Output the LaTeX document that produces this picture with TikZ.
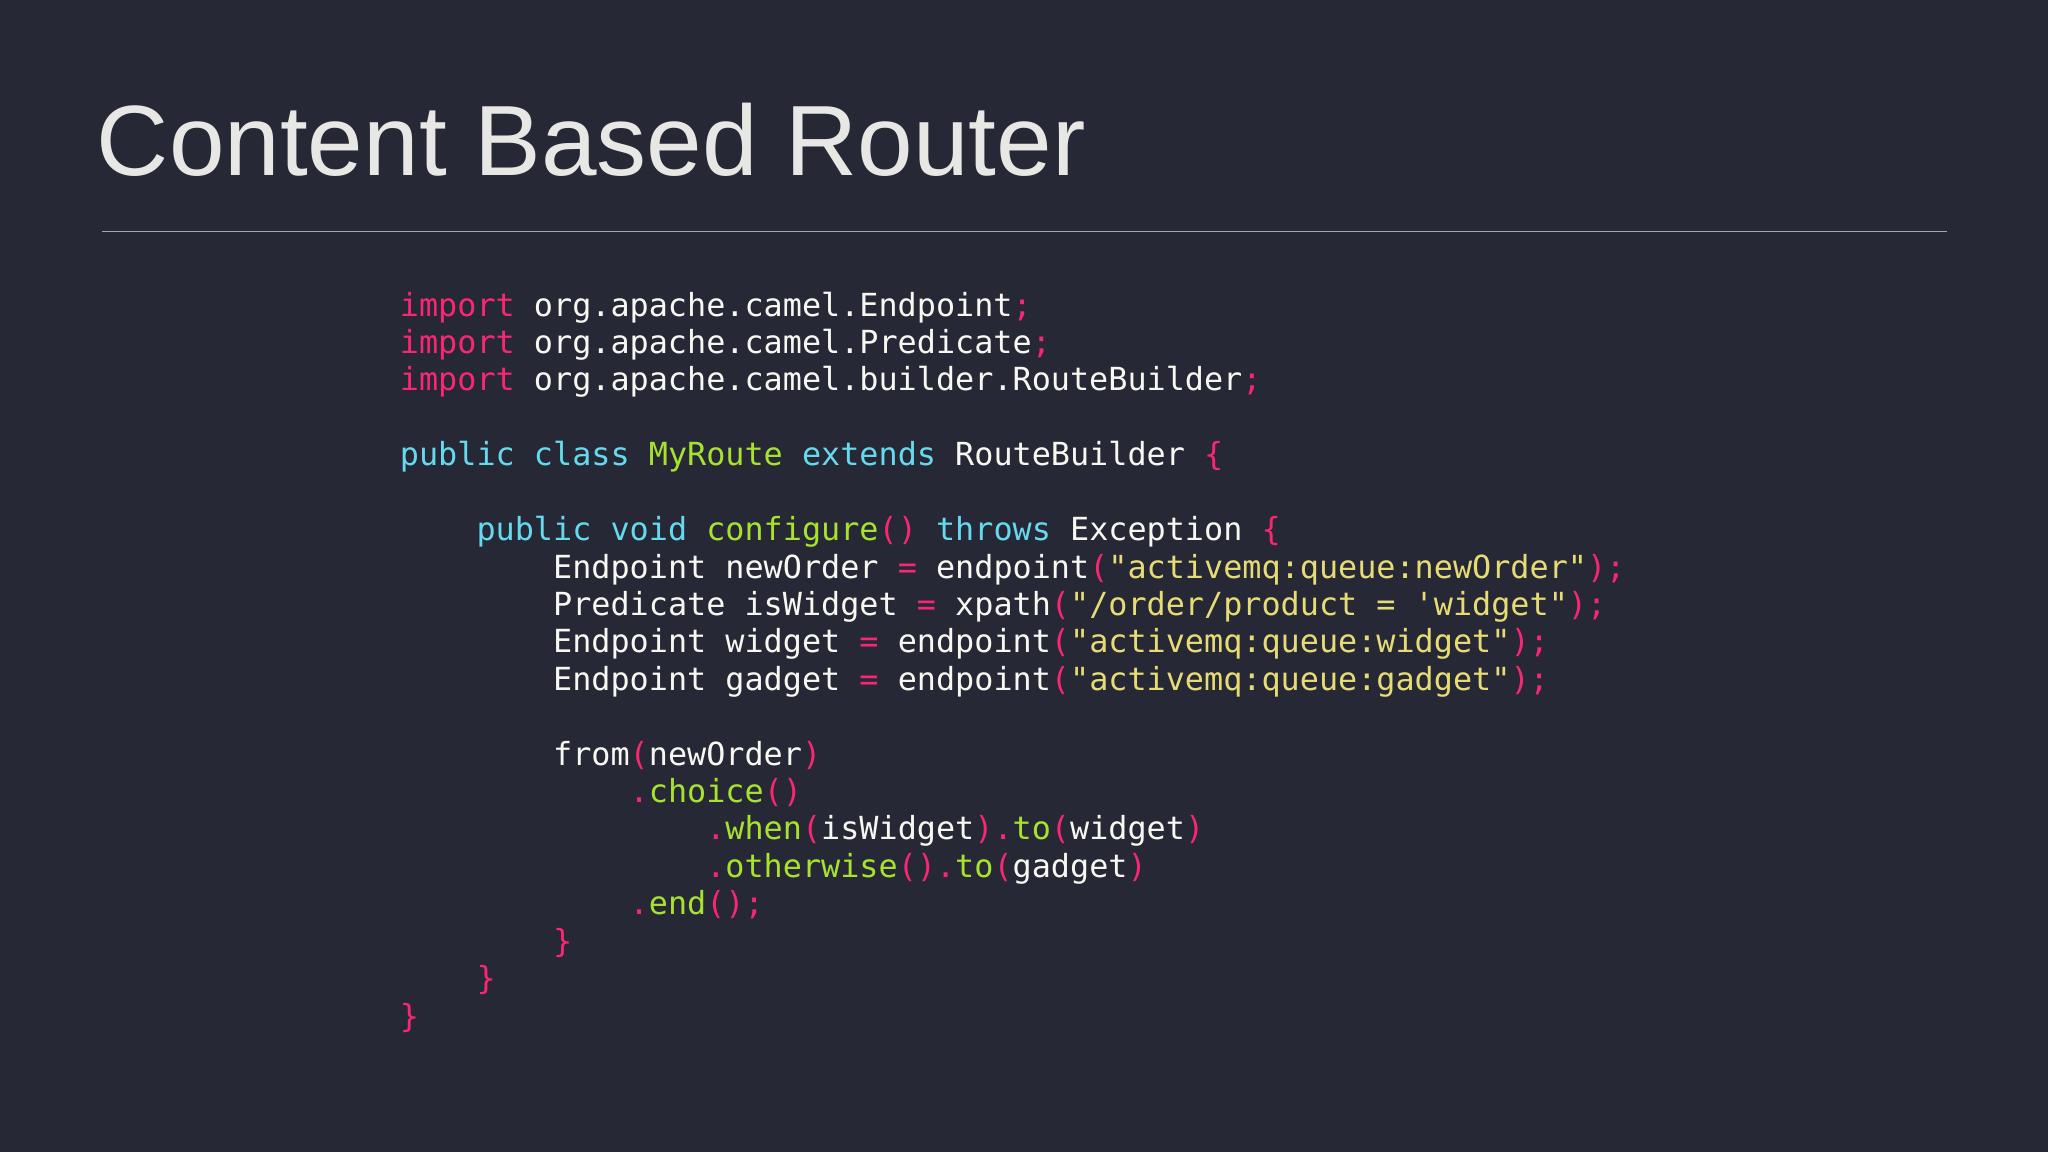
\documentclass[tikz,border=0pt]{standalone}
\usepackage{fontspec}
\setmainfont{Liberation Sans}
\setmonofont{DejaVu Sans Mono}
\definecolor{bg}{HTML}{262835}
\definecolor{pk}{HTML}{F92672}
\definecolor{cy}{HTML}{66D9EF}
\definecolor{gr}{HTML}{A6E22E}
\definecolor{ye}{HTML}{E6DB74}
\definecolor{fg}{HTML}{F8F8F2}
\newcommand\cP[1]{\textcolor{pk}{#1}}
\newcommand\cC[1]{\textcolor{cy}{#1}}
\newcommand\cG[1]{\textcolor{gr}{#1}}
\newcommand\cY[1]{\textcolor{ye}{#1}}
\begin{document}
\begin{tikzpicture}[x=1pt,y=-1pt,
  code/.style={anchor=base west,inner sep=0pt,text=fg,font=\fontsize{24.35}{28}\ttfamily}]
\fill[bg] (0,0) rectangle (1568,882);
\useasboundingbox (0,0) rectangle (1568,882);
\node[anchor=base west,inner sep=0pt,text=fg!92!bg,font=\fontsize{76.5}{80}\selectfont] (title) at (74,134) {Content Based Router};
\coordinate (r1) at (78,177); \coordinate (r2) at (1491,177);
\draw[gray!70,line width=0.8pt] (r1) -- (r2);
\def\cw{14.66}
\def\lh{28.65}
\def\yb{242}
\newcommand\codeline[3]{\node[code] (l#1) at (306+#2*\cw,\yb+#1*\lh) {#3};}
\codeline{0}{0}{\cP{import} org.apache.camel.Endpoint\cP{;}}
\codeline{1}{0}{\cP{import} org.apache.camel.Predicate\cP{;}}
\codeline{2}{0}{\cP{import} org.apache.camel.builder.RouteBuilder\cP{;}}
\codeline{4}{0}{\cC{public} \cC{class} \cG{MyRoute} \cC{extends} RouteBuilder \cP{\{}}
\codeline{6}{4}{\cC{public} \cC{void} \cG{configure}\cP{()} \cC{throws} Exception \cP{\{}}
\codeline{7}{8}{Endpoint newOrder \cP{=} endpoint\cP{(}\cY{"activemq:queue:newOrder"}\cP{);}}
\codeline{8}{8}{Predicate isWidget \cP{=} xpath\cP{(}\cY{"/order/product = 'widget"}\cP{);}}
\codeline{9}{8}{Endpoint widget \cP{=} endpoint\cP{(}\cY{"activemq:queue:widget"}\cP{);}}
\codeline{10}{8}{Endpoint gadget \cP{=} endpoint\cP{(}\cY{"activemq:queue:gadget"}\cP{);}}
\codeline{12}{8}{from\cP{(}newOrder\cP{)}}
\codeline{13}{12}{\cP{.}\cG{choice}\cP{()}}
\codeline{14}{16}{\cP{.}\cG{when}\cP{(}isWidget\cP{).}\cG{to}\cP{(}widget\cP{)}}
\codeline{15}{16}{\cP{.}\cG{otherwise}\cP{().}\cG{to}\cP{(}gadget\cP{)}}
\codeline{16}{12}{\cP{.}\cG{end}\cP{();}}
\codeline{17}{8}{\cP{\}}}
\codeline{18}{4}{\cP{\}}}
\codeline{19}{0}{\cP{\}}}
\end{tikzpicture}
\end{document}
